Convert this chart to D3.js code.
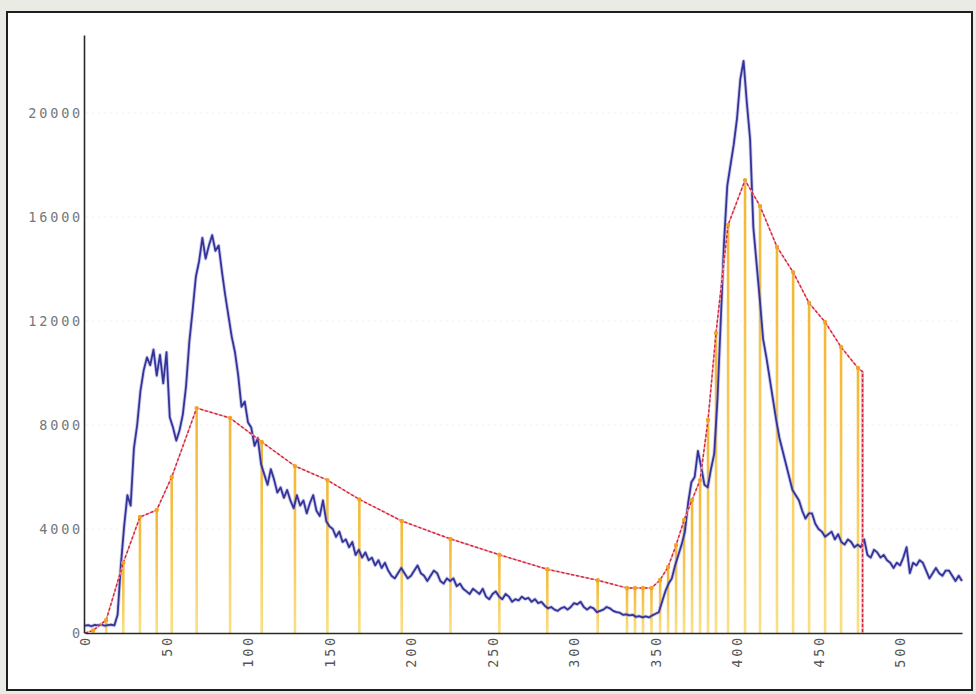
<!DOCTYPE html>
<html>
<head>
<meta charset="utf-8">
<script src="https://cdn.jsdelivr.net/npm/d3@7/dist/d3.min.js"></script>
<style>
  html, body { margin: 0; padding: 0; background: #e9ebe4; }
  svg { display: block; }
</style>
</head>
<body>
<svg id="chart" width="976" height="694"></svg>
<script>
// ---------------- DATA ----------------
const yTicks = [0, 4000, 8000, 12000, 16000, 20000];
const xTicks = [0, 50, 100, 150, 200, 250, 300, 350, 400, 450, 500];

// blue signal, sampled every 2 units starting at 0
const blueStart = 0;
const blueStep = 2;
const blueValues = [
  280, 300, 260, 310, 290, 330, 280, 300, 320, 290,
  700, 2600, 4100, 5300, 4900, 7100, 8000, 9300, 10100, 10600,
  10300, 10900, 9900, 10700, 9600, 10800, 8300, 7900, 7400, 7800,
  8400, 9500, 11200, 12400, 13700, 14300, 15200, 14400, 14900, 15300,
  14700, 14900, 13900, 13000, 12200, 11400, 10800, 9900, 8700, 8900,
  8100, 7900, 7200, 7500, 6500, 6100, 5700, 6300, 5900, 5400,
  5600, 5200, 5500, 5100, 4800, 5300, 4900, 5100, 4600, 5000,
  5300, 4700, 4500, 5100, 4300, 4100, 4000, 3700, 3900, 3500,
  3600, 3300, 3500, 3000, 3200, 2900, 3100, 2800, 2900, 2600,
  2800, 2500, 2700, 2400, 2200, 2100, 2300, 2500, 2300, 2100,
  2200, 2400, 2600, 2300, 2200, 2000, 2200, 2400, 2300, 2000,
  1900, 2100, 2000, 2100, 1800, 1900, 1700, 1600, 1500, 1700,
  1600, 1500, 1700, 1400, 1300, 1500, 1600, 1400, 1300, 1500,
  1400, 1200, 1300, 1250, 1400, 1300, 1350, 1200, 1300, 1150,
  1200, 1050, 950, 1000, 900, 850, 950, 1000, 900, 1000,
  1150, 1100, 1200, 1000, 900, 1000, 950, 800, 850, 900,
  1000, 950, 850, 800, 780, 700, 720, 680, 700, 620,
  650, 600, 640, 600, 680, 740, 800, 1200, 1600, 1900,
  2100, 2600, 3000, 3400, 3900, 5000, 5800, 6000, 7000, 6400,
  5700, 5600, 6300, 6900, 9000, 12000, 15000, 17200, 18000, 18800,
  19800, 21300, 22000, 20400, 19000, 15600, 14200, 12800, 11300, 10600,
  9800, 9000, 8200, 7500, 7000, 6500, 6000, 5500, 5300, 5100,
  4700, 4400, 4600, 4600, 4200, 4000, 3900, 3700, 3800, 3900,
  3600, 3800, 3500, 3400, 3600, 3500, 3300, 3400, 3300, 3600,
  3000, 2900, 3200, 3100, 2900, 3000, 2800, 2700, 2500, 2700,
  2600, 2900, 3300, 2300, 2700, 2600, 2800, 2700, 2400, 2100,
  2300, 2500, 2300, 2200, 2400, 2400, 2200, 2000, 2200, 2000
];

// red envelope points (also the stems)
const redX = [0, 5, 13, 23.5, 33.7, 44, 53.2, 68.5, 89, 108.4, 128.8, 148.7, 168.3, 194.3,
  224.2, 254.2, 283.6, 314.5, 332.5, 337.4, 342.3, 347.5, 352.8, 357.7, 362.6, 367.5,
  372.4, 377.3, 382.2, 387.1, 394.5, 404.9, 414.1, 424.5, 434.4, 444.2, 454, 463.8,
  474.2, 477, 477];
const redY = [0, 100, 500, 2700, 4460, 4730, 6000, 8650, 8270, 7350, 6420, 5880, 5140, 4310,
  3620, 3010, 2450, 2030, 1730, 1730, 1730, 1730, 2040, 2540, 3380, 4350,
  5120, 5880, 8190, 11540, 15690, 17420, 16420, 14850, 13880, 12690, 11960, 11000,
  10190, 10050, 0];

// ---------------- CHART ----------------
const svg = d3.select("#chart");
const x = d3.scaleLinear().domain([0, 538]).range([85, 962]);
const y = d3.scaleLinear().domain([0, 23000]).range([633, 35]);

// frame
svg.append("rect").attr("x", 7).attr("y", 12).attr("width", 965).attr("height", 678)
  .attr("fill", "#ffffff").attr("stroke", "#1e1e1e").attr("stroke-width", 2);

// faint grid
svg.append("g").selectAll("line").data(yTicks.slice(1)).join("line")
  .attr("x1", 86).attr("x2", 962)
  .attr("y1", d => y(d)).attr("y2", d => y(d))
  .attr("stroke", "#f1f1f1").attr("stroke-width", 1).attr("stroke-dasharray", "2,4");

const defs = svg.append("defs");
const grad = defs.append("linearGradient").attr("id", "stemGrad")
  .attr("x1", 0).attr("y1", 0).attr("x2", 0).attr("y2", 1);
grad.append("stop").attr("offset", "0%").attr("stop-color", "#f0aa10");
grad.append("stop").attr("offset", "100%").attr("stop-color", "#f8da70");

// stems
const redPts = redX.map((v, i) => ({ x: v, y: redY[i] }));
svg.append("g").selectAll("rect").data(redPts.filter(d => d.y > 0)).join("rect")
  .attr("x", d => x(d.x) - 1.3).attr("width", 2.6)
  .attr("y", d => y(d.y)).attr("height", d => y(0) - y(d.y))
  .attr("fill", "url(#stemGrad)").attr("opacity", 0.85);

// blue line
const bluePts = blueValues.map((v, i) => ({ x: blueStart + i * blueStep, y: v }));
const line = d3.line().x(d => x(d.x)).y(d => y(d.y));
svg.append("path").datum(bluePts).attr("d", line)
  .attr("fill", "none").attr("stroke", "#8c8cd0").attr("stroke-width", 3.6).attr("opacity", 0.45)
  .attr("stroke-linejoin", "round");
svg.append("path").datum(bluePts).attr("d", line)
  .attr("fill", "none").attr("stroke", "#33339a").attr("stroke-width", 1.8)
  .attr("stroke-linejoin", "round");

// red line
svg.append("path").datum(redPts).attr("d", line)
  .attr("fill", "none").attr("stroke", "#f2a4ae").attr("stroke-width", 1.6);
svg.append("path").datum(redPts).attr("d", line)
  .attr("fill", "none").attr("stroke", "#d4263a").attr("stroke-width", 1.4)
  .attr("stroke-dasharray", "3,2");
svg.append("g").selectAll("circle").data(redPts.slice(1, -2)).join("circle")
  .attr("cx", d => x(d.x)).attr("cy", d => y(d.y)).attr("r", 2.2)
  .attr("fill", "#f0a424");

// axes
const fontFam = "'DejaVu Sans Mono', monospace";
const yAxis = svg.append("g").attr("transform", "translate(84,0)")
  .call(d3.axisLeft(y).tickValues(yTicks).tickSize(0).tickPadding(1).tickFormat(d3.format("d")));
yAxis.select(".domain").attr("stroke", "#2a2a2a").attr("stroke-width", 1.6);
yAxis.selectAll("text").attr("font-family", fontFam).attr("font-size", 13.5)
  .attr("letter-spacing", "2.8px").attr("fill", "#777");

const xAxis = svg.append("g").attr("transform", "translate(0,633)")
  .call(d3.axisBottom(x).tickValues(xTicks).tickSize(0).tickFormat(d3.format("d")));
xAxis.select(".domain").attr("stroke", "#2a2a2a").attr("stroke-width", 1.6);
xAxis.selectAll("text")
  .attr("font-family", fontFam).attr("font-size", 13.5).attr("letter-spacing", "2.8px")
  .attr("fill", "#555")
  .attr("text-anchor", "end")
  .attr("transform", "rotate(-90)")
  .attr("x", -2).attr("y", 0).attr("dy", "0.35em");
</script>
</body>
</html>
